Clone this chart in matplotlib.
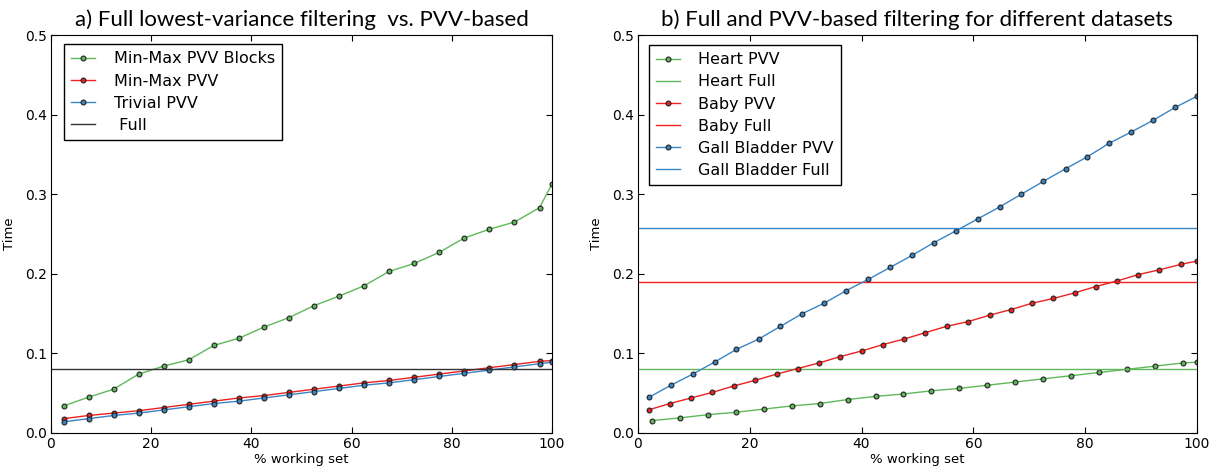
import matplotlib
matplotlib.use("Agg")
import matplotlib.pyplot as plt

# --- data: a) full lowest-variance filtering vs PVV-based
x_a = [2.5, 7.5, 12.5, 17.5, 22.5, 27.5, 32.5, 37.5, 42.5, 47.5, 52.5,
       57.5, 62.5, 67.5, 72.5, 77.5, 82.5, 87.5, 92.5, 97.5, 100]
minmax_blocks = [0.034, 0.045, 0.055, 0.074, 0.084, 0.092, 0.110, 0.119, 0.133, 0.145, 0.160,
                 0.172, 0.185, 0.203, 0.213, 0.227, 0.245, 0.256, 0.265, 0.283, 0.313]
minmax_pvv = [0.018, 0.022, 0.025, 0.028, 0.032, 0.036, 0.040, 0.044, 0.047, 0.051, 0.055,
              0.059, 0.063, 0.066, 0.070, 0.074, 0.078, 0.082, 0.086, 0.090, 0.091]
trivial_pvv = [0.014, 0.018, 0.022, 0.025, 0.029, 0.033, 0.037, 0.040, 0.044, 0.048, 0.052,
               0.056, 0.060, 0.063, 0.067, 0.071, 0.075, 0.079, 0.083, 0.087, 0.089]
full_a = 0.081

# --- data: b) different datasets
x_heart = x_a
heart_pvv = [0.0155, 0.019, 0.023, 0.026, 0.030, 0.034, 0.037, 0.042, 0.046, 0.049, 0.053,
             0.056, 0.060, 0.064, 0.068, 0.072, 0.076, 0.080, 0.084, 0.088, 0.089]
heart_full = 0.081

x_baby = [1.9, 5.7, 9.5, 13.3, 17.1, 20.9, 24.8, 28.6, 32.4, 36.2, 40.0, 43.8, 47.6,
          51.4, 55.2, 59.1, 62.9, 66.7, 70.5, 74.3, 78.1, 81.9, 85.7, 89.5, 93.3, 97.2, 100]
baby_pvv = [0.029, 0.037, 0.044, 0.051, 0.059, 0.066, 0.074, 0.081, 0.088, 0.096, 0.103,
            0.111, 0.118, 0.126, 0.134, 0.140, 0.148, 0.155, 0.163, 0.169, 0.176, 0.184,
            0.191, 0.199, 0.205, 0.212, 0.216]
baby_full = 0.190

x_gall = [2.0, 5.9, 9.8, 13.7, 17.6, 21.6, 25.5, 29.4, 33.3, 37.3, 41.2, 45.1, 49.0,
          52.9, 56.9, 60.8, 64.7, 68.6, 72.5, 76.5, 80.4, 84.3, 88.2, 92.2, 96.1, 100]
gall_pvv = [0.045, 0.060, 0.074, 0.089, 0.105, 0.118, 0.134, 0.150, 0.163, 0.179, 0.193,
            0.208, 0.223, 0.239, 0.254, 0.269, 0.284, 0.300, 0.316, 0.332, 0.347, 0.364,
            0.378, 0.393, 0.409, 0.423]
gall_full = 0.257

GREEN = '#5fb95a'
RED = '#ee2020'
BLUE = '#3a85c4'

plt.rcParams['font.family'] = 'DejaVu Sans'
plt.rcParams['xtick.direction'] = 'in'
plt.rcParams['ytick.direction'] = 'in'
plt.rcParams['xtick.top'] = True
plt.rcParams['ytick.right'] = True
plt.rcParams['xtick.major.size'] = 4
plt.rcParams['ytick.major.size'] = 4

fig = plt.figure(figsize=(12.17, 4.68), dpi=100)
ax1 = fig.add_axes([0.0419, 0.0748, 0.4117, 0.8504])
ax2 = fig.add_axes([0.5242, 0.0748, 0.4593, 0.8504])

mk = dict(marker='o', markersize=3.5, markeredgecolor='#222222', markeredgewidth=0.8, linewidth=1.0)

ax1.plot(x_a, minmax_blocks, color=GREEN, label='Min-Max PVV Blocks', **mk)
ax1.plot(x_a, minmax_pvv, color=RED, label='Min-Max PVV', **mk)
ax1.plot(x_a, trivial_pvv, color=BLUE, label='Trivial PVV', **mk)
ax1.axhline(full_a, color='#333333', linewidth=1.0, label=' Full')

ax2.plot(x_heart, heart_pvv, color=GREEN, label='Heart PVV', **mk)
ax2.axhline(heart_full, color=GREEN, linewidth=1.0, label='Heart Full')
ax2.plot(x_baby, baby_pvv, color=RED, label='Baby PVV', **mk)
ax2.axhline(baby_full, color=RED, linewidth=1.0, label='Baby Full')
ax2.plot(x_gall, gall_pvv, color=BLUE, label='Gall Bladder PVV', **mk)
ax2.axhline(gall_full, color=BLUE, linewidth=1.0, label='Gall Bladder Full')

titles = ['a) Full lowest-variance filtering  vs. PVV-based',
          'b) Full and PVV-based filtering for different datasets']
anchors = [(0.026, 0.977), (0.0197, 0.975)]
for ax, title, anchor in zip([ax1, ax2], titles, anchors):
    ax.set_xlim(0, 100)
    ax.set_ylim(0, 0.5)
    ax.set_xticks([0, 20, 40, 60, 80, 100])
    ax.set_yticks([0.0, 0.1, 0.2, 0.3, 0.4, 0.5])
    ax.tick_params(labelsize=10, pad=3)
    ax.set_xlabel('% working set', fontsize=9.5, labelpad=1)
    ax.set_ylabel('Time', fontsize=9.5, labelpad=6)
    ax.set_title(title, fontsize=16, family='Lato', pad=6.5)
    leg = ax.legend(loc='upper left', bbox_to_anchor=anchor, borderaxespad=0,
                    fontsize=11.5, fancybox=False, framealpha=1,
                    edgecolor='black', handlelength=1.5, borderpad=0.45,
                    labelspacing=0.45, handletextpad=1.15)
    leg.get_frame().set_linewidth(1.0)

fig.savefig('out.png', dpi=100)
